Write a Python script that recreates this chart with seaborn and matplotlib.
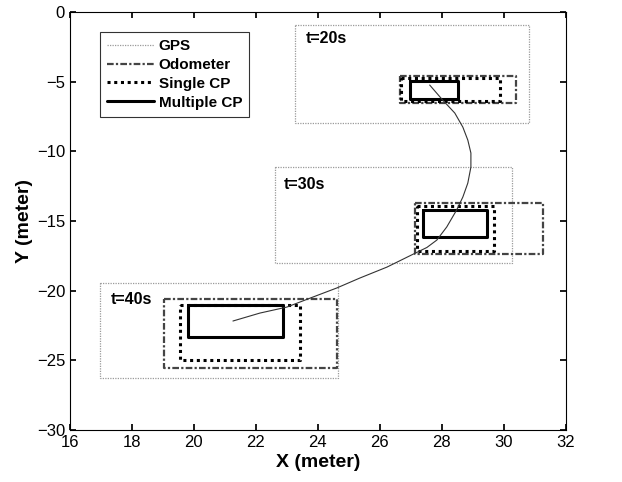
import matplotlib
matplotlib.use("Agg")
import matplotlib.pyplot as plt
import seaborn as sns
import pandas as pd
from matplotlib.lines import Line2D

sns.set_theme(style="white")
plt.rcParams['font.family'] = ['Liberation Sans', 'DejaVu Sans']
plt.rcParams['text.color'] = 'black'
plt.rcParams['axes.labelcolor'] = 'black'

# Rectangles: [x0, x1, y0, y1] at t = 20s, 30s, 40s
times = ["t=20s", "t=30s", "t=40s"]
gps_boxes = [[23.26, 30.8, -0.93, -7.97],
             [22.61, 30.26, -11.13, -18.02],
             [16.97, 24.65, -19.45, -26.27]]
odo_boxes = [[26.65, 30.39, -4.6, -6.53],
             [27.13, 31.26, -13.71, -17.37],
             [19.03, 24.61, -20.6, -25.56]]
single_boxes = [[26.7, 29.87, -4.7, -6.4],
                [27.2, 29.7, -13.95, -17.15],
                [19.55, 23.42, -21.03, -24.98]]
multi_boxes = [[26.97, 28.52, -4.95, -6.25],
               [27.39, 29.45, -14.2, -16.15],
               [19.8, 22.87, -21.03, -23.33]]
label_pos = [[23.6, -1.9], [22.9, -12.4], [17.3, -20.6]]

# Trajectory
traj_x = [27.61, 28.03, 28.42, 28.68, 28.84, 28.94, 28.94, 28.84, 28.68, 28.48,
          28.16, 27.84, 27.52, 27.06, 26.23, 25.35, 24.61, 23.84, 23.0, 22.13, 21.26]
traj_y = [-5.24, -6.32, -7.25, -8.26, -9.19, -10.12, -11.13, -12.28, -13.28, -14.21,
          -15.43, -16.37, -16.9, -17.4, -18.31, -19.10, -19.81, -20.46, -21.18, -21.61, -22.18]

sensors = ["GPS", "Odometer", "Single CP", "Multiple CP"]
styles = {
    "GPS": dict(color="#9a9a9a", ls=(0, (1, 1)), lw=0.9),
    "Odometer": dict(color="#444444", ls=(0, (3, 1, 1, 1)), lw=1.6),
    "Single CP": dict(color="black", ls=(0, (1, 1.2)), lw=2.2),
    "Multiple CP": dict(color="black", ls="-", lw=2.2),
}
box_sets = {"GPS": gps_boxes, "Odometer": odo_boxes,
            "Single CP": single_boxes, "Multiple CP": multi_boxes}

fig = plt.figure(figsize=(6.22, 4.82), dpi=100)
ax = fig.add_axes([0.1125, 0.108, 0.797, 0.867])

for s in sensors:
    for b in box_sets[s]:
        x0, x1, y0, y1 = b
        df = pd.DataFrame({"x": [x0, x1, x1, x0, x0], "y": [y0, y0, y1, y1, y0]})
        sns.lineplot(data=df, x="x", y="y", sort=False, estimator=None, ax=ax,
                     color=styles[s]["color"], linestyle=styles[s]["ls"],
                     linewidth=styles[s]["lw"])

tdf = pd.DataFrame({"x": traj_x, "y": traj_y})
sns.lineplot(data=tdf, x="x", y="y", sort=False, estimator=None, ax=ax,
             color="#333333", linewidth=0.8)

for t, (lx, ly) in zip(times, label_pos):
    ax.text(lx, ly, t, fontsize=11.5, fontweight="bold", ha="left", va="center")

ax.set_xlim(16, 32)
ax.set_ylim(-30, 0)
ax.set_xticks(range(16, 33, 2))
ax.set_yticks(range(-30, 1, 5))
ax.tick_params(direction="in", length=4, labelsize=12, colors="black",
               top=True, right=True, bottom=True, left=True)
for sp in ax.spines.values():
    sp.set_color("black")
    sp.set_linewidth(0.8)
ax.set_xlabel("X (meter)", fontsize=14, fontweight="bold", labelpad=3)
ax.set_ylabel("Y (meter)", fontsize=14, fontweight="bold", labelpad=3)

handles = [Line2D([0], [0], color=styles[s]["color"], linestyle=styles[s]["ls"],
                  linewidth=styles[s]["lw"]) for s in sensors]
leg = ax.legend(handles, sensors, loc="upper left", bbox_to_anchor=(0.06, 0.952),
                borderaxespad=0,
                prop={"weight": "bold", "size": 11}, frameon=True, fancybox=False,
                handlelength=3.1, handletextpad=0.3, borderpad=0.45, labelspacing=0.32)
leg.get_frame().set_edgecolor("black")
leg.get_frame().set_linewidth(0.8)

fig.savefig("out.png", dpi=100)
